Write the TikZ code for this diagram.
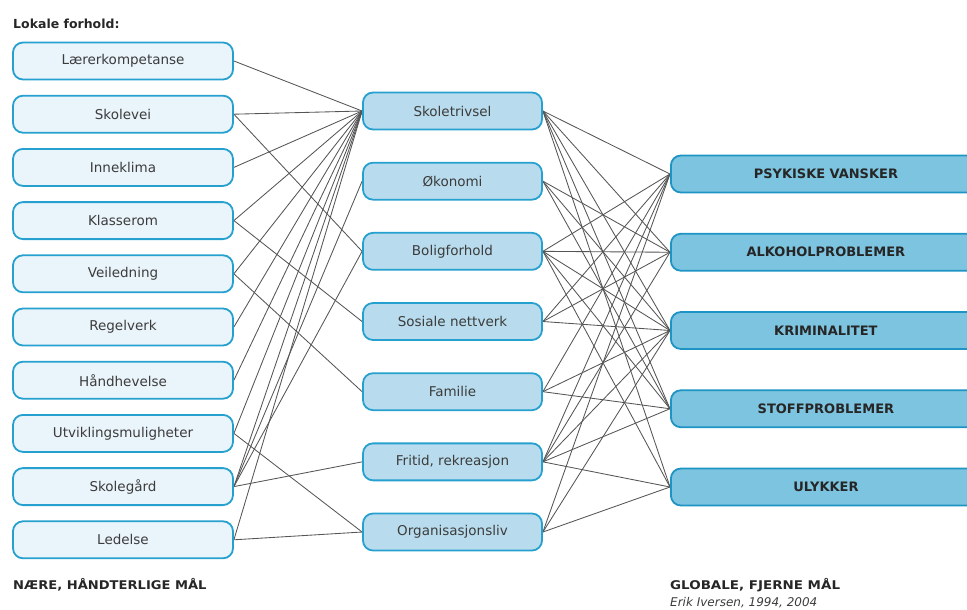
\documentclass[tikz,border=0pt]{standalone}
\usepackage{fontspec}
\setmainfont{DejaVu Sans}
\usetikzlibrary{backgrounds}
\definecolor{boxblue}{RGB}{38,160,206}
\definecolor{rblue}{RGB}{30,148,196}
\definecolor{lfill}{RGB}{234,244,251}
\definecolor{mfill}{RGB}{184,220,237}
\definecolor{rfill}{RGB}{125,196,224}
\definecolor{txtgray}{RGB}{60,60,60}
\definecolor{linkgray}{RGB}{85,85,85}
\newcommand{\boxfont}{\fontsize{13.5}{16}\selectfont}
\newcommand{\rfont}{\fontsize{13}{16}\selectfont\bfseries}
\tikzset{
  lbox/.style={draw=boxblue, fill=lfill, rounded corners=10pt, line width=1.8pt,
    minimum width=220pt, minimum height=37pt, inner sep=0pt, text=txtgray, font=\boxfont},
  mbox/.style={lbox, fill=mfill, minimum width=179pt},
  rbox/.style={draw=rblue, fill=rfill, rounded corners=10pt, line width=1.8pt,
    minimum width=310pt, minimum height=37pt, inner sep=0pt, anchor=west,
    text=black!85, font=\rfont, text width=310pt, align=center},
  link/.style={draw=linkgray, line width=0.85pt},
  lbl/.style={anchor=base west, inner sep=0pt, text=black!85}
}
\begin{document}
\begin{tikzpicture}[x=1pt,y=-1pt]
\useasboundingbox (0,0) rectangle (967,610);
\clip (0,0) rectangle (967,610);
% left column
\foreach \t [count=\i] in {Lærerkompetanse,Skolevei,Inneklima,Klasserom,Veiledning,Regelverk,Håndhevelse,Utviklingsmuligheter,Skolegård,Ledelse}
  \node[lbox] (L\i) at (123,{61+53.2*(\i-1)}) {\t};
% middle column
\foreach \t [count=\i] in {Skoletrivsel,Økonomi,Boligforhold,Sosiale nettverk,Familie,{Fritid, rekreasjon},Organisasjonsliv}
  \node[mbox] (M\i) at (452.5,{111+70.17*(\i-1)}) {\t};
% right column
\foreach \t [count=\i] in {PSYKISKE VANSKER,ALKOHOLPROBLEMER,KRIMINALITET,STOFFPROBLEMER,ULYKKER}
  \node[rbox] (R\i) at (670,{174+78.25*(\i-1)}) {\t};
% links
\begin{scope}[on background layer]
\foreach \a/\b in {1/1,2/1,2/3,3/1,4/1,4/4,5/1,5/5,6/1,7/1,8/1,8/7,9/1,9/2,9/3,9/6,10/1,10/7}
  \draw[link] (L\a.east) -- (M\b.west);
\foreach \a/\b in {1/1,1/2,1/3,1/4,1/5,2/2,2/3,2/4,3/1,3/2,3/3,3/4,3/5,4/1,4/2,4/3,5/1,5/3,5/4,6/1,6/2,6/3,6/4,6/5,7/1,7/3,7/5}
  \draw[link] (M\a.east) -- (R\b.west);
\end{scope}
% labels
\node[lbl, font=\fontsize{12.5}{14}\selectfont\bfseries] (title) at (13,29) {Lokale forhold:};
\node[lbl, font=\fontsize{12}{14}\selectfont\bfseries] (near) at (13,589) {\scalebox{1.09}[1]{NÆRE, HÅNDTERLIGE MÅL}};
\node[lbl, font=\fontsize{12}{14}\selectfont\bfseries] (far) at (670,589) {\scalebox{1.12}[1]{GLOBALE, FJERNE MÅL}};
\node[lbl, font=\fontsize{12}{13}\selectfont\itshape, text=txtgray] (src) at (670,606) {Erik Iversen, 1994, 2004};
\end{tikzpicture}
\end{document}
